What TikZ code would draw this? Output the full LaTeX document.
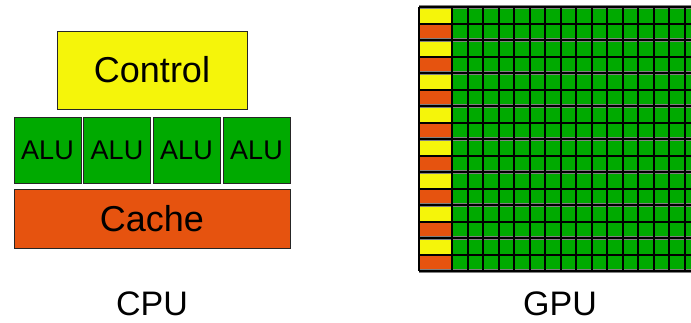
\documentclass[tikz,border=0pt]{standalone}
\usepackage{fontspec}
\setmainfont{Liberation Sans}
\usetikzlibrary{positioning}
\definecolor{chipyellow}{HTML}{F5F50A}
\definecolor{chipgreen}{HTML}{00AA00}
\definecolor{chiporange}{HTML}{E6530F}

\begin{document}
\begin{tikzpicture}[x=1pt, y=-1pt,
  unit/.style={draw=black!85, line width=1pt, inner sep=0pt},
  alu/.style={unit, fill=chipgreen, minimum width=67pt, minimum height=66pt,
    font=\fontsize{27}{30}\selectfont},
  caption/.style={font=\fontsize{34}{38}\selectfont},
  gridline/.style={black, line width=2pt},
  pairline/.style={black!50, line width=4pt}]
\useasboundingbox (0,0) rectangle (691,322);

% CPU: control, four ALUs, cache
\node[unit, fill=chipyellow, minimum width=190pt, minimum height=78pt,
  font=\fontsize{36}{40}\selectfont] (control) at (152,70) {Control};
\foreach \i/\x in {1/47.5, 2/117, 3/186.5, 4/256.5} {
  \node[alu] (alu\i) at (\x,150) {ALU};
}
\node[unit, fill=chiporange, minimum width=276pt, minimum height=59pt,
  font=\fontsize{36}{40}\selectfont] (cache) at (152,218.5) {Cache};

% GPU: rows of control/cache cells and many small ALUs
\begin{scope}
  \clip (0,0) rectangle (691,322);
  \fill[chipgreen] (452,7) rectangle (700,271);
  \foreach \p [evaluate=\p as \ya using 7+33*\p,
               evaluate=\p as \yb using round(23.5+33*\p),
               evaluate=\p as \yc using 40+33*\p] in {0,...,7} {
    \fill[chipyellow] (419,\ya) rectangle (452,\yb);
    \fill[chiporange] (419,\yb) rectangle (452,\yc);
  }
  % lines between the row pairs
  \foreach \p [evaluate=\p as \ya using 7+33*\p] in {0,...,8} {
    \draw[pairline] (419,\ya) -- (700,\ya);
  }
  % cell lines, kept on whole points
  \foreach \row [evaluate=\row as \ya using round(7+16.5*\row)] in {0,...,16} {
    \draw[gridline] (419,\ya) -- (700,\ya);
  }
  \draw[gridline] (419,7) -- (419,271);
  \foreach \col [evaluate=\col as \xa using round(452+15.5*\col)] in {0,...,15} {
    \draw[gridline] (\xa,7) -- (\xa,271);
  }
\end{scope}

% Captions
\node[caption] (cpu) at (152,304) {CPU};
\node[caption] (gpu) at (560,304) {GPU};

\end{tikzpicture}
\end{document}
